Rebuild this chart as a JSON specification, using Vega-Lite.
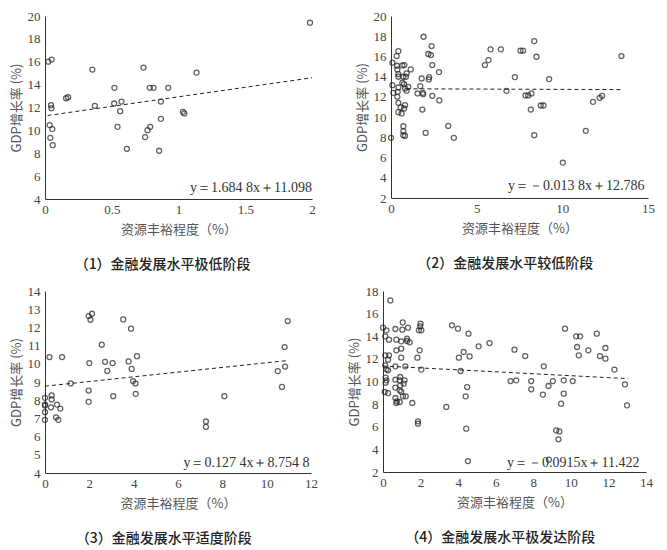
{
  "$schema": "https://vega.github.io/schema/vega-lite/v6.json",
  "padding": {"left": 10, "top": 10, "right": 5, "bottom": 5},
  "background": "white",
  "datasets": {
    "p1": [
      {"x": 1.985, "y": 19.42}, {"x": 0.025, "y": 16.01}, {"x": 0.05, "y": 16.19}, {"x": 0.045, "y": 12.2},
      {"x": 0.048, "y": 11.94}, {"x": 0.035, "y": 10.46}, {"x": 0.055, "y": 10.11}, {"x": 0.04, "y": 9.35},
      {"x": 0.058, "y": 8.71}, {"x": 0.158, "y": 12.81}, {"x": 0.173, "y": 12.9}, {"x": 0.355, "y": 15.32},
      {"x": 0.373, "y": 12.15}, {"x": 0.52, "y": 13.72}, {"x": 0.518, "y": 12.35}, {"x": 0.573, "y": 12.52},
      {"x": 0.563, "y": 11.68}, {"x": 0.543, "y": 10.31}, {"x": 0.613, "y": 8.39}, {"x": 0.738, "y": 15.49},
      {"x": 0.785, "y": 13.72}, {"x": 0.813, "y": 13.72}, {"x": 0.923, "y": 13.72}, {"x": 0.868, "y": 12.52},
      {"x": 0.868, "y": 11.01}, {"x": 0.788, "y": 10.31}, {"x": 0.768, "y": 10.02}, {"x": 0.75, "y": 9.41},
      {"x": 0.855, "y": 8.22}, {"x": 1.033, "y": 11.62}, {"x": 1.043, "y": 11.48}, {"x": 1.135, "y": 15.05}
    ],
    "p2": [
      {"x": 0, "y": 7.95}, {"x": 0.08, "y": 15.38}, {"x": 0.08, "y": 13.16}, {"x": 0.14, "y": 12.4},
      {"x": 0.43, "y": 16.53}, {"x": 0.33, "y": 16.04}, {"x": 0.35, "y": 15.08}, {"x": 0.37, "y": 14.72},
      {"x": 0.43, "y": 14.25}, {"x": 0.43, "y": 13.99}, {"x": 0.43, "y": 12.93}, {"x": 0.39, "y": 12.5},
      {"x": 0.37, "y": 12.01}, {"x": 0.43, "y": 11.41}, {"x": 0.43, "y": 10.49}, {"x": 0.62, "y": 10.36},
      {"x": 0.56, "y": 10.95}, {"x": 0.66, "y": 15.11}, {"x": 0.78, "y": 15.15}, {"x": 0.72, "y": 13.99},
      {"x": 0.66, "y": 13.4}, {"x": 0.76, "y": 13.26}, {"x": 0.82, "y": 12.83}, {"x": 0.91, "y": 12.6},
      {"x": 1.01, "y": 13.0}, {"x": 0.91, "y": 14.32}, {"x": 0.87, "y": 13.99}, {"x": 1.15, "y": 14.72},
      {"x": 0.82, "y": 11.18}, {"x": 0.76, "y": 10.85}, {"x": 0.72, "y": 9.1}, {"x": 0.72, "y": 8.61},
      {"x": 0.72, "y": 8.21}, {"x": 0.82, "y": 8.14}, {"x": 1.9, "y": 17.95}, {"x": 2.37, "y": 17.03},
      {"x": 2.18, "y": 16.24}, {"x": 2.33, "y": 16.14}, {"x": 2.41, "y": 15.15}, {"x": 2.8, "y": 14.45},
      {"x": 2.23, "y": 13.96}, {"x": 2.21, "y": 13.73}, {"x": 1.79, "y": 13.82}, {"x": 1.71, "y": 13.07},
      {"x": 1.55, "y": 12.34}, {"x": 1.88, "y": 12.27}, {"x": 1.85, "y": 12.4}, {"x": 2.41, "y": 12.11},
      {"x": 2.82, "y": 11.65}, {"x": 1.83, "y": 10.75}, {"x": 2.02, "y": 8.44}, {"x": 3.34, "y": 9.13},
      {"x": 3.67, "y": 7.95}, {"x": 5.48, "y": 15.15}, {"x": 5.69, "y": 15.64}, {"x": 5.81, "y": 16.7},
      {"x": 6.41, "y": 16.7}, {"x": 6.74, "y": 12.6}, {"x": 7.23, "y": 13.96}, {"x": 7.56, "y": 16.57},
      {"x": 7.71, "y": 16.57}, {"x": 8.36, "y": 17.52}, {"x": 8.49, "y": 15.97}, {"x": 7.85, "y": 12.14},
      {"x": 8.01, "y": 12.14}, {"x": 8.2, "y": 12.34}, {"x": 8.16, "y": 10.75}, {"x": 8.74, "y": 11.15},
      {"x": 8.9, "y": 11.15}, {"x": 8.36, "y": 8.21}, {"x": 9.23, "y": 13.76}, {"x": 10.03, "y": 5.5},
      {"x": 11.37, "y": 8.64}, {"x": 11.79, "y": 11.51}, {"x": 12.18, "y": 11.91}, {"x": 12.32, "y": 12.11},
      {"x": 13.45, "y": 16.04}
    ],
    "p3": [
      {"x": 0, "y": 8.13}, {"x": 0, "y": 7.76}, {"x": 0, "y": 7.71}, {"x": 0, "y": 7.34}, {"x": 0, "y": 6.92},
      {"x": 0.2, "y": 10.37}, {"x": 0.3, "y": 8.26}, {"x": 0.3, "y": 8.04}, {"x": 0.27, "y": 7.61},
      {"x": 0.54, "y": 7.76}, {"x": 0.69, "y": 7.54}, {"x": 0.5, "y": 7.06}, {"x": 0.6, "y": 6.92},
      {"x": 0.77, "y": 10.37}, {"x": 1.16, "y": 8.92}, {"x": 1.97, "y": 12.62}, {"x": 2.12, "y": 12.75},
      {"x": 2.05, "y": 12.42}, {"x": 2.0, "y": 10.04}, {"x": 1.97, "y": 8.53}, {"x": 1.97, "y": 7.91},
      {"x": 2.56, "y": 11.05}, {"x": 2.71, "y": 10.11}, {"x": 2.81, "y": 9.61}, {"x": 3.05, "y": 10.04},
      {"x": 3.08, "y": 8.22}, {"x": 3.53, "y": 12.44}, {"x": 3.88, "y": 11.93}, {"x": 3.77, "y": 10.13},
      {"x": 3.91, "y": 9.72}, {"x": 4.15, "y": 10.42}, {"x": 3.97, "y": 9.05}, {"x": 4.08, "y": 8.92},
      {"x": 4.09, "y": 8.35}, {"x": 7.26, "y": 6.83}, {"x": 7.26, "y": 6.53}, {"x": 8.09, "y": 8.22},
      {"x": 10.5, "y": 9.6}, {"x": 10.69, "y": 8.73}, {"x": 10.83, "y": 9.85}, {"x": 10.81, "y": 10.92},
      {"x": 10.95, "y": 12.35}
    ],
    "p4": [
      {"x": 0.39, "y": 17.17}, {"x": 0, "y": 14.76}, {"x": 0.18, "y": 14.52}, {"x": 0.12, "y": 13.99},
      {"x": 0.32, "y": 13.7}, {"x": 0.12, "y": 12.31}, {"x": 0.32, "y": 12.31}, {"x": 0.27, "y": 11.93},
      {"x": 0.12, "y": 11.43}, {"x": 0.18, "y": 11.08}, {"x": 0.27, "y": 10.99}, {"x": 0.14, "y": 10.34},
      {"x": 0.18, "y": 10.1}, {"x": 0.14, "y": 9.9}, {"x": 0.09, "y": 9.07}, {"x": 0.27, "y": 8.98},
      {"x": 0.66, "y": 14.64}, {"x": 0.71, "y": 13.7}, {"x": 0.71, "y": 12.76}, {"x": 0.66, "y": 11.34},
      {"x": 0.66, "y": 10.16}, {"x": 0.66, "y": 9.46}, {"x": 0.66, "y": 8.54}, {"x": 0.71, "y": 8.1},
      {"x": 0.74, "y": 8.25}, {"x": 0.89, "y": 10.1}, {"x": 0.92, "y": 9.66}, {"x": 0.89, "y": 9.22},
      {"x": 0.97, "y": 9.1}, {"x": 0.89, "y": 8.19}, {"x": 0.92, "y": 10.4}, {"x": 0.97, "y": 12.9},
      {"x": 0.97, "y": 12.11}, {"x": 0.97, "y": 13.55}, {"x": 1.03, "y": 14.58}, {"x": 1.05, "y": 15.23},
      {"x": 1.1, "y": 9.81}, {"x": 1.15, "y": 10.1}, {"x": 1.06, "y": 8.69}, {"x": 1.21, "y": 8.69},
      {"x": 1.19, "y": 11.34}, {"x": 1.28, "y": 13.79}, {"x": 1.33, "y": 14.76}, {"x": 1.42, "y": 13.46},
      {"x": 1.28, "y": 13.58}, {"x": 1.56, "y": 8.1}, {"x": 1.83, "y": 12.11}, {"x": 1.95, "y": 12.76},
      {"x": 2.0, "y": 15.11}, {"x": 1.98, "y": 14.88}, {"x": 1.91, "y": 14.52}, {"x": 2.04, "y": 14.52},
      {"x": 2.04, "y": 11.05}, {"x": 1.86, "y": 6.48}, {"x": 1.86, "y": 6.27}, {"x": 3.37, "y": 7.75},
      {"x": 3.67, "y": 14.97}, {"x": 3.99, "y": 14.67}, {"x": 4.04, "y": 12.11}, {"x": 4.29, "y": 12.61},
      {"x": 4.13, "y": 10.93}, {"x": 4.55, "y": 14.23}, {"x": 4.61, "y": 12.22}, {"x": 4.48, "y": 9.51},
      {"x": 4.4, "y": 8.69}, {"x": 4.43, "y": 5.83}, {"x": 4.52, "y": 2.97}, {"x": 5.09, "y": 13.11},
      {"x": 5.67, "y": 13.4}, {"x": 6.79, "y": 10.04}, {"x": 7.09, "y": 10.1}, {"x": 7.0, "y": 12.81},
      {"x": 7.57, "y": 12.25}, {"x": 7.89, "y": 10.04}, {"x": 7.89, "y": 9.31}, {"x": 8.51, "y": 8.84},
      {"x": 8.56, "y": 11.34}, {"x": 8.81, "y": 9.6}, {"x": 9.04, "y": 10.04}, {"x": 8.83, "y": 3.09},
      {"x": 9.22, "y": 5.68}, {"x": 9.39, "y": 5.59}, {"x": 9.34, "y": 4.89}, {"x": 9.48, "y": 8.04},
      {"x": 9.62, "y": 10.1}, {"x": 9.62, "y": 8.92}, {"x": 9.69, "y": 14.67}, {"x": 10.1, "y": 10.04},
      {"x": 10.28, "y": 13.99}, {"x": 10.49, "y": 13.99}, {"x": 10.33, "y": 13.05}, {"x": 10.42, "y": 12.31},
      {"x": 10.93, "y": 12.76}, {"x": 11.38, "y": 14.23}, {"x": 11.55, "y": 12.25}, {"x": 11.84, "y": 12.02},
      {"x": 11.84, "y": 12.96}, {"x": 12.32, "y": 11.05}, {"x": 12.88, "y": 9.75}, {"x": 12.99, "y": 7.89}
    ],
    "lines": [
      {"p": 1, "x": 0.02, "y": 11.3}, {"p": 1, "x": 2, "y": 14.6},
      {"p": 2, "x": 0.9, "y": 12.8}, {"p": 2, "x": 13.5, "y": 12.72},
      {"p": 3, "x": 0, "y": 8.77}, {"p": 3, "x": 10.95, "y": 10.18},
      {"p": 4, "x": 0, "y": 11.37}, {"p": 4, "x": 13.06, "y": 10.25}
    ],
    "eq": [
      {"p": 1, "x": 2, "y": 5.0, "t": "y＝1.684 8x＋11.098"},
      {"p": 2, "x": 14.8, "y": 3.2, "t": "y＝－0.013 8x＋12.786"},
      {"p": 3, "x": 11.93, "y": 4.55, "t": "y＝0.127 4x＋8.754 8"},
      {"p": 4, "x": 13.65, "y": 2.8, "t": "y＝－0.0915x＋11.422"}
    ]
  },
  "vconcat": [
    {
      "hconcat": [
        {
          "width": 267,
          "height": 183,
          "title": {"text": "（1）金融发展水平极低阶段"},
          "encoding": {
            "x": {"field": "x", "type": "quantitative", "scale": {"domain": [0, 2], "nice": false},
                  "axis": {"values": [0, 0.5, 1, 1.5, 2], "labelOverlap": false, "title": "资源丰裕程度（%）"}},
            "y": {"field": "y", "type": "quantitative", "scale": {"domain": [4, 20], "nice": false},
                  "axis": {"values": [4, 6, 8, 10, 12, 14, 16, 18, 20], "labelOverlap": false, "title": "GDP增长率 (%)"}}
          },
          "layer": [
            {
              "data": {"name": "p1"},
              "mark": {"type": "point", "shape": "circle", "filled": false, "size": 25, "strokeWidth": 1.3, "color": "#222"}
            },
            {
              "data": {"name": "lines"},
              "transform": [{"filter": "datum.p == 1"}],
              "mark": {"type": "line", "strokeDash": [4, 3], "strokeWidth": 1, "color": "#222"}
            },
            {
              "data": {"name": "eq"},
              "transform": [{"filter": "datum.p == 1"}],
              "mark": {"type": "text", "align": "right", "baseline": "middle", "font": "Liberation Serif", "fontSize": 14, "color": "#333"},
              "encoding": {"text": {"field": "t"}}
            }
          ]
        },
        {
          "width": 257,
          "height": 182,
          "title": {"text": "（2）金融发展水平较低阶段"},
          "encoding": {
            "x": {"field": "x", "type": "quantitative", "scale": {"domain": [0, 15], "nice": false},
                  "axis": {"values": [0, 5, 10, 15], "labelOverlap": false, "title": "资源丰裕程度（%）"}},
            "y": {"field": "y", "type": "quantitative", "scale": {"domain": [2, 20], "nice": false},
                  "axis": {"values": [2, 4, 6, 8, 10, 12, 14, 16, 18, 20], "labelOverlap": false, "title": "GDP增长率 (%)"}}
          },
          "layer": [
            {
              "data": {"name": "p2"},
              "mark": {"type": "point", "shape": "circle", "filled": false, "size": 25, "strokeWidth": 1.3, "color": "#222"}
            },
            {
              "data": {"name": "lines"},
              "transform": [{"filter": "datum.p == 2"}],
              "mark": {"type": "line", "strokeDash": [4, 3], "strokeWidth": 1, "color": "#222"}
            },
            {
              "data": {"name": "eq"},
              "transform": [{"filter": "datum.p == 2"}],
              "mark": {"type": "text", "align": "right", "baseline": "middle", "font": "Liberation Serif", "fontSize": 14, "color": "#333"},
              "encoding": {"text": {"field": "t"}}
            }
          ]
        }
      ]
    },
    {
      "spacing": 30,
      "hconcat": [
        {
          "width": 266,
          "height": 182,
          "title": {"text": "（3）金融发展水平适度阶段"},
          "encoding": {
            "x": {"field": "x", "type": "quantitative", "scale": {"domain": [0, 12], "nice": false},
                  "axis": {"values": [0, 2, 4, 6, 8, 10, 12], "labelOverlap": false, "title": "资源丰裕程度（%）"}},
            "y": {"field": "y", "type": "quantitative", "scale": {"domain": [4, 14], "nice": false},
                  "axis": {"values": [4, 5, 6, 7, 8, 9, 10, 11, 12, 13, 14], "labelOverlap": false, "title": "GDP增长率 (%)"}}
          },
          "layer": [
            {
              "data": {"name": "p3"},
              "mark": {"type": "point", "shape": "circle", "filled": false, "size": 25, "strokeWidth": 1.3, "color": "#222"}
            },
            {
              "data": {"name": "lines"},
              "transform": [{"filter": "datum.p == 3"}],
              "mark": {"type": "line", "strokeDash": [4, 3], "strokeWidth": 1, "color": "#222"}
            },
            {
              "data": {"name": "eq"},
              "transform": [{"filter": "datum.p == 3"}],
              "mark": {"type": "text", "align": "right", "baseline": "middle", "font": "Liberation Serif", "fontSize": 14, "color": "#333"},
              "encoding": {"text": {"field": "t"}}
            }
          ]
        },
        {
          "width": 263,
          "height": 181,
          "title": {"text": "（4）金融发展水平极发达阶段"},
          "encoding": {
            "x": {"field": "x", "type": "quantitative", "scale": {"domain": [0, 14], "nice": false},
                  "axis": {"values": [0, 2, 4, 6, 8, 10, 12, 14], "labelOverlap": false, "title": "资源丰裕程度（%）"}},
            "y": {"field": "y", "type": "quantitative", "scale": {"domain": [2, 18], "nice": false},
                  "axis": {"values": [2, 4, 6, 8, 10, 12, 14, 16, 18], "labelOverlap": false, "title": "GDP增长率 (%)"}}
          },
          "layer": [
            {
              "data": {"name": "p4"},
              "mark": {"type": "point", "shape": "circle", "filled": false, "size": 25, "strokeWidth": 1.3, "color": "#222"}
            },
            {
              "data": {"name": "lines"},
              "transform": [{"filter": "datum.p == 4"}],
              "mark": {"type": "line", "strokeDash": [4, 3], "strokeWidth": 1, "color": "#222"}
            },
            {
              "data": {"name": "eq"},
              "transform": [{"filter": "datum.p == 4"}],
              "mark": {"type": "text", "align": "right", "baseline": "middle", "font": "Liberation Serif", "fontSize": 14, "color": "#333"},
              "encoding": {"text": {"field": "t"}}
            }
          ]
        }
      ]
    }
  ],
  "spacing": 13,
  "config": {
    "concat": {"spacing": 40},
    "view": {"stroke": null},
    "axis": {
      "grid": false,
      "ticks": false,
      "labelFlush": false,
      "format": "~g",
      "domainColor": "#333",
      "domainWidth": 1,
      "labelFont": "Liberation Serif",
      "labelFontSize": 13,
      "labelColor": "#444",
      "titleFont": "Noto Sans CJK SC",
      "titleFontSize": 13,
      "titleFontWeight": "normal",
      "titleColor": "#555"
    },
    "axisX": {"labelPadding": 4, "titlePadding": 7},
    "axisY": {"labelPadding": 5, "titlePadding": 4},
    "title": {
      "orient": "bottom",
      "anchor": "middle",
      "frame": "bounds",
      "offset": 22,
      "font": "Noto Sans CJK SC",
      "fontSize": 14,
      "fontWeight": 500,
      "color": "#222"
    }
  }
}
